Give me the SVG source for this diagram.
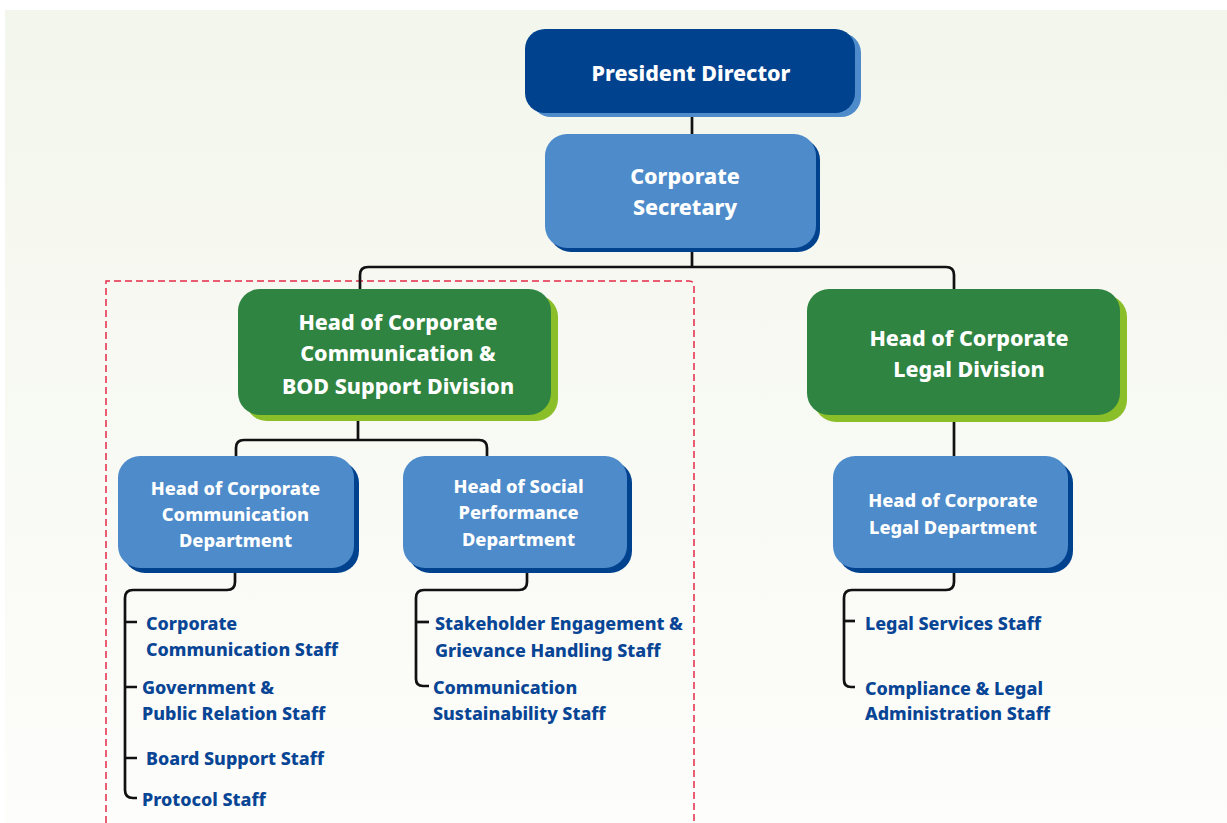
<svg xmlns="http://www.w3.org/2000/svg" width="1227" height="823" viewBox="0 0 1227 823">
<defs>
<linearGradient id="bg" x1="0" y1="0" x2="0" y2="1">
<stop offset="0" stop-color="#f3f6ec"/>
<stop offset="1" stop-color="#fdfdfb"/>
</linearGradient>
</defs>
<style>
.t{font-family:"Noto Sans","Open Sans","Liberation Sans",sans-serif;font-weight:800;fill:#ffffff;text-anchor:middle}
.t22{font-size:21.5px}
.t19{font-size:18.3px}
.s{font-family:"Noto Sans","Open Sans","Liberation Sans",sans-serif;font-weight:800;font-size:17.9px;fill:#084595}
.dk{fill:#01428f}
.lt{fill:#4e8bca}
.gr{fill:#2e8440}
.lg{fill:#8bbf2a}
.c{fill:none;stroke:#111111;stroke-width:2.7;stroke-linejoin:round;stroke-linecap:butt}
</style>
<rect x="0" y="0" width="1227" height="823" fill="#ffffff"/>
<rect x="5" y="10" width="1222" height="813" fill="url(#bg)"/>
<path d="M106 823 V281 H689 Q694 281 694 286 V823" fill="none" stroke="#e42a48" stroke-width="1.5" stroke-dasharray="7 4"/>
<g id="connectors">
<path class="c" d="M692 113 V135"/>
<path class="c" d="M692 248 V267"/>
<path class="c" d="M360 290 V275 Q360 267 368 267 H946 Q954 267 954 275 V290"/>
<path class="c" d="M358 415 V440"/>
<path class="c" d="M236 456 V448 Q236 440 244 440 H479 Q487 440 487 448 V456"/>
<path class="c" d="M954 415 V457"/>
<path class="c" d="M235 572 V582 Q235 590 227 590 H133 Q125 590 125 598 V790 Q125 798 133 798 H137"/>
<path class="c" d="M125 622 H137 M125 687 H137 M125 758 H137"/>
<path class="c" d="M527 572 V582 Q527 590 519 590 H424 Q416 590 416 598 V679 Q416 686 423 686 H429"/>
<path class="c" d="M416 622 H429"/>
<path class="c" d="M954 573 V582 Q954 590 946 590 H852 Q844 590 844 598 V680 Q844 687 851 687 H855"/>
<path class="c" d="M844 621 H855"/>
</g>
<g id="president-director">
<rect class="lt" x="531" y="33" width="330" height="84" rx="20"/>
<rect class="dk" x="525" y="29" width="330" height="84" rx="20"/>
<text class="t t22" x="691" y="81">President Director</text>
</g>
<g id="corporate-secretary">
<rect class="dk" x="549" y="138" width="271" height="114" rx="22"/>
<rect class="lt" x="545" y="134" width="271" height="114" rx="22"/>
<text class="t t22" x="685" y="183.5">Corporate</text>
<text class="t t22" x="685" y="215">Secretary</text>
</g>
<g id="head-corp-comm-division">
<rect class="lg" x="245" y="295" width="313" height="126" rx="22"/>
<rect class="gr" x="238" y="289" width="313" height="126" rx="22"/>
<text class="t t22" x="398" y="329.5">Head of Corporate</text>
<text class="t t22" x="398" y="361">Communication &amp;</text>
<text class="t t22" x="398" y="393.5">BOD Support Division</text>
</g>
<g id="head-corp-legal-division">
<rect class="lg" x="814" y="295" width="313" height="127" rx="22"/>
<rect class="gr" x="807" y="289" width="313" height="126" rx="22"/>
<text class="t t22" x="969" y="345.5">Head of Corporate</text>
<text class="t t22" x="969" y="377">Legal Division</text>
</g>
<g id="head-corp-comm-dept">
<rect class="dk" x="123" y="461" width="236" height="112" rx="22"/>
<rect class="lt" x="118" y="456" width="236" height="112" rx="22"/>
<text class="t t19" x="235.5" y="494.5">Head of Corporate</text>
<text class="t t19" x="235.5" y="520.5">Communication</text>
<text class="t t19" x="235.5" y="547">Department</text>
</g>
<g id="head-social-perf-dept">
<rect class="dk" x="408" y="461" width="224" height="112" rx="22"/>
<rect class="lt" x="403" y="456" width="224" height="112" rx="22"/>
<text class="t t19" x="518.5" y="492.5">Head of Social</text>
<text class="t t19" x="518.5" y="519">Performance</text>
<text class="t t19" x="518.5" y="546">Department</text>
</g>
<g id="head-corp-legal-dept">
<rect class="dk" x="838" y="461" width="235" height="112" rx="22"/>
<rect class="lt" x="833" y="456" width="235" height="112" rx="22"/>
<text class="t t19" x="953" y="507">Head of Corporate</text>
<text class="t t19" x="953" y="533.5">Legal Department</text>
</g>
<g id="staff-corp-comm">
<text class="s" x="146" y="629.5">Corporate</text>
<text class="s" x="146" y="655.5">Communication Staff</text>
</g>
<g id="staff-gov-pr">
<text class="s" x="142" y="694">Government &amp;</text>
<text class="s" x="142" y="720">Public Relation Staff</text>
</g>
<g id="staff-board-support">
<text class="s" x="146" y="765">Board Support Staff</text>
</g>
<g id="staff-protocol">
<text class="s" x="142" y="806">Protocol Staff</text>
</g>
<g id="staff-stakeholder">
<text class="s" x="435" y="630">Stakeholder Engagement &amp;</text>
<text class="s" x="435" y="656.5">Grievance Handling Staff</text>
</g>
<g id="staff-comm-sustainability">
<text class="s" x="433" y="694">Communication</text>
<text class="s" x="433" y="720">Sustainability Staff</text>
</g>
<g id="staff-legal-services">
<text class="s" x="865" y="630">Legal Services Staff</text>
</g>
<g id="staff-compliance">
<text class="s" x="865" y="694.5">Compliance &amp; Legal</text>
<text class="s" x="865" y="720">Administration Staff</text>
</g>
</svg>
